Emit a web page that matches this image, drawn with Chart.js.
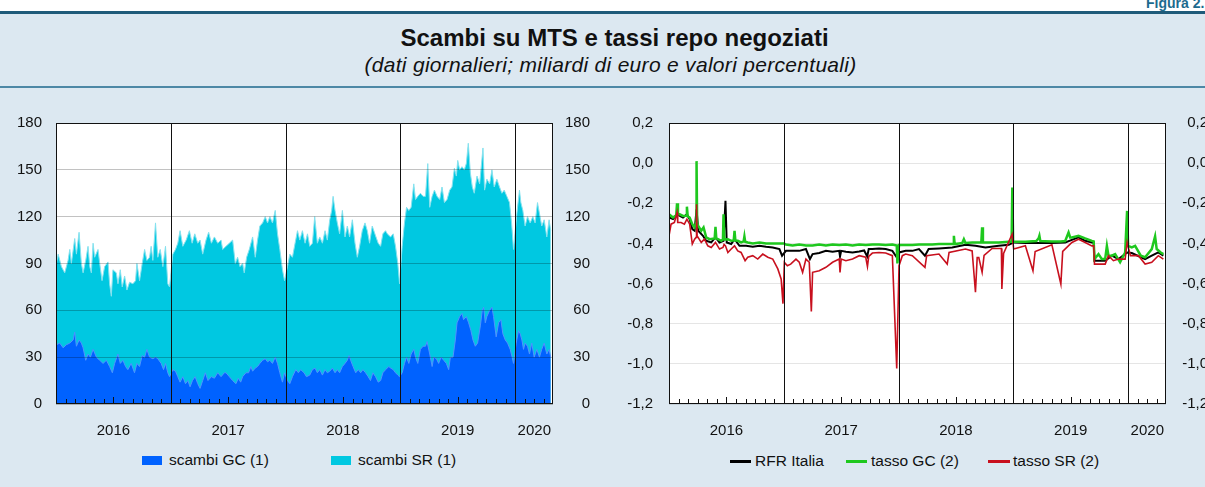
<!DOCTYPE html>
<html><head><meta charset="utf-8">
<script src="https://cdn.jsdelivr.net/npm/chart.js@4.4.1/dist/chart.umd.min.js"></script>
<style>
html,body{margin:0;padding:0;width:1205px;height:487px;overflow:hidden;background:#dce8f1;font-family:"Liberation Sans",Arial,Helvetica,sans-serif;color:#111;position:relative}
#topband{position:absolute;left:0;top:0;width:1205px;height:11px;background:#fff}
#fig{position:absolute;left:1146px;top:-5px;font-weight:bold;font-size:14px;color:#1c6a8e;white-space:nowrap}
#rule1{position:absolute;left:0;top:11px;width:1205px;height:3px;background:#1f5b7a}
#rule2{position:absolute;left:0;top:86px;width:1205px;height:2px;background:#4d88a6}
#title{position:absolute;top:24px;left:24px;width:1181px;text-align:center;font-weight:bold;font-size:24px;color:#111;white-space:nowrap}
#sub{position:absolute;top:53px;left:16px;width:1189px;text-align:center;font-style:italic;font-size:21px;letter-spacing:0.3px;color:#111;white-space:nowrap}
canvas{position:absolute;top:90px}
#c1{left:0}
#c2{left:605px}
.lg{position:absolute;font-size:15.5px;line-height:18px;color:#111;white-space:nowrap}
.box{position:absolute;width:20px;height:9px}
.ln{position:absolute;height:3px}
</style>
</head><body>
<div id="topband"></div>
<div id="fig">Figura 2.</div>
<div id="rule1"></div>
<div id="title">Scambi su MTS e tassi repo negoziati</div>
<div id="sub">(dati giornalieri; miliardi di euro e valori percentuali)</div>
<div id="rule2"></div>
<canvas id="c1" width="590" height="350"></canvas>
<canvas id="c2" width="603" height="350"></canvas>

<div class="box" style="left:142px;top:456px;background:#0062ff"></div>
<div class="lg" style="left:169px;top:451px">scambi GC (1)</div>
<div class="box" style="left:331px;top:456px;background:#00c8e1"></div>
<div class="lg" style="left:358px;top:451px">scambi SR (1)</div>

<div class="ln" style="left:730px;top:460px;width:21px;background:#000"></div>
<div class="lg" style="left:755px;top:452px">RFR Italia</div>
<div class="ln" style="left:846px;top:460px;width:21px;background:#1ec81e"></div>
<div class="lg" style="left:871px;top:452px">tasso GC (2)</div>
<div class="ln" style="left:988px;top:460px;width:22px;background:#c8101e"></div>
<div class="lg" style="left:1013px;top:452px">tasso SR (2)</div>

<script>
// ---------- DATA (x = date as fractional year, y = value) ----------
// Left panel: volumes, billions of euro
const yearLabels = ['2016','2017','2018','2019','2020'];
const yearLabelPos = [2016.5, 2017.5, 2018.5, 2019.5, 2020.167];
const yearBounds = [2017, 2018, 2019, 2020];

// top of the stacked area (GC + SR)
const scambiTotaliGCSR = [
[2016.004,90],[2016.019,96],[2016.047,88],[2016.076,84],[2016.105,92],[2016.120,99],[2016.134,90],[2016.163,106],[2016.178,96],[2016.201,110],
[2016.221,90],[2016.236,84],[2016.259,92],[2016.279,101],[2016.294,88],[2016.308,84],[2016.323,103],[2016.337,94],[2016.366,99],[2016.381,90],
[2016.401,79],[2016.424,88],[2016.453,91],[2016.467,77],[2016.482,69],[2016.496,86],[2016.525,84],[2016.540,77],[2016.560,86],[2016.577,75],
[2016.598,82],[2016.618,73],[2016.641,78],[2016.670,77],[2016.693,79],[2016.705,90],[2016.728,79],[2016.751,90],[2016.772,99],[2016.792,92],
[2016.815,94],[2016.829,101],[2016.844,92],[2016.867,116],[2016.887,94],[2016.908,99],[2016.931,88],[2016.954,101],[2016.974,77],[2016.989,75],
[2017.018,96],[2017.041,99],[2017.061,103],[2017.081,111],[2017.105,101],[2017.134,105],[2017.162,111],[2017.186,103],[2017.209,109],[2017.235,103],
[2017.255,105],[2017.278,96],[2017.307,105],[2017.330,110],[2017.354,103],[2017.380,107],[2017.409,103],[2017.438,105],[2017.452,99],[2017.481,101],
[2017.510,103],[2017.539,105],[2017.562,90],[2017.582,94],[2017.603,88],[2017.626,90],[2017.640,84],[2017.661,94],[2017.684,99],[2017.713,107],
[2017.736,94],[2017.756,105],[2017.776,114],[2017.800,116],[2017.823,120],[2017.843,116],[2017.863,120],[2017.886,116],[2017.910,124],[2017.930,109],
[2017.950,99],[2017.973,86],[2017.991,79],[2018.017,88],[2018.037,96],[2018.060,94],[2018.083,103],[2018.104,111],[2018.124,105],[2018.147,111],
[2018.170,103],[2018.191,109],[2018.211,101],[2018.234,103],[2018.254,120],[2018.277,103],[2018.298,107],[2018.321,103],[2018.344,111],[2018.364,105],
[2018.385,118],[2018.402,124],[2018.414,133],[2018.431,124],[2018.451,116],[2018.471,109],[2018.495,124],[2018.518,107],[2018.538,114],[2018.558,107],
[2018.582,118],[2018.605,103],[2018.625,94],[2018.645,101],[2018.668,111],[2018.692,116],[2018.712,111],[2018.732,103],[2018.755,114],[2018.778,109],
[2018.807,103],[2018.828,101],[2018.848,109],[2018.871,111],[2018.886,109],[2018.915,107],[2018.938,109],[2018.958,101],[2018.978,90],[2018.993,77],
[2019.016,101],[2019.036,116],[2019.054,126],[2019.074,124],[2019.094,126],[2019.117,141],[2019.132,131],[2019.152,133],[2019.175,135],[2019.198,133],
[2019.219,133],[2019.239,154],[2019.256,126],[2019.277,133],[2019.297,137],[2019.320,133],[2019.343,131],[2019.363,139],[2019.384,129],[2019.407,131],
[2019.430,137],[2019.450,139],[2019.471,151],[2019.488,146],[2019.500,156],[2019.517,150],[2019.537,152],[2019.557,150],[2019.575,154],[2019.592,167],
[2019.610,148],[2019.627,139],[2019.644,135],[2019.668,146],[2019.691,141],[2019.720,164],[2019.734,137],[2019.754,144],[2019.778,141],[2019.798,150],
[2019.818,139],[2019.841,144],[2019.864,139],[2019.885,135],[2019.905,137],[2019.928,133],[2019.951,129],[2019.969,116],[2019.986,99],[2020.015,122],
[2020.038,137],[2020.050,129],[2020.067,124],[2020.087,114],[2020.108,120],[2020.131,116],[2020.154,120],[2020.174,116],[2020.195,129],[2020.212,122],
[2020.232,114],[2020.253,118],[2020.276,107],[2020.296,118],[2020.310,111]
];

const scambiGC = [
[2016.004,38],[2016.033,39],[2016.062,36],[2016.091,38],[2016.120,39],[2016.149,41],[2016.163,46],[2016.178,37],[2016.201,41],[2016.221,39],
[2016.236,36],[2016.259,28],[2016.279,32],[2016.300,30],[2016.323,35],[2016.352,30],[2016.381,28],[2016.410,26],[2016.439,28],[2016.467,24],
[2016.491,20],[2016.511,26],[2016.540,32],[2016.560,26],[2016.583,28],[2016.606,24],[2016.626,22],[2016.655,26],[2016.684,20],[2016.705,26],
[2016.728,24],[2016.751,31],[2016.772,30],[2016.792,35],[2016.815,30],[2016.844,29],[2016.867,30],[2016.887,29],[2016.916,26],[2016.937,22],
[2016.954,26],[2016.974,20],[2016.989,17.5],[2017.018,22],[2017.041,21],[2017.061,17.5],[2017.081,14],[2017.105,17.5],[2017.128,13],[2017.149,15],
[2017.168,11],[2017.189,15],[2017.212,17.5],[2017.235,13],[2017.255,10],[2017.278,15],[2017.301,20],[2017.324,15],[2017.354,17.5],[2017.380,16.5],
[2017.409,20],[2017.438,17.5],[2017.467,20],[2017.481,20],[2017.510,17.5],[2017.539,15],[2017.568,13],[2017.588,16.5],[2017.609,14],[2017.626,17.5],
[2017.655,20],[2017.678,20],[2017.698,24],[2017.713,21],[2017.736,23],[2017.756,24],[2017.776,26],[2017.800,28],[2017.823,29],[2017.843,27],
[2017.863,28],[2017.886,26],[2017.910,30],[2017.930,26],[2017.950,20],[2017.973,14],[2017.991,20],[2018.017,15],[2018.037,13],[2018.060,17.5],
[2018.089,22],[2018.112,20],[2018.132,22],[2018.161,20],[2018.182,17.5],[2018.211,18.5],[2018.234,22],[2018.257,23],[2018.277,20],[2018.298,22],
[2018.321,18.5],[2018.344,22],[2018.364,20],[2018.385,21],[2018.408,23],[2018.431,20],[2018.451,22],[2018.471,20],[2018.495,24],[2018.518,26],
[2018.538,28],[2018.553,31],[2018.567,28],[2018.588,24],[2018.611,20],[2018.634,22],[2018.654,20],[2018.674,22],[2018.697,20],[2018.720,17.5],
[2018.740,15],[2018.761,20],[2018.784,17.5],[2018.807,14],[2018.828,15],[2018.848,20],[2018.871,22],[2018.900,24],[2018.915,23],[2018.938,22],
[2018.958,20],[2018.978,18.5],[2018.993,17.5],[2019.016,20],[2019.036,26],[2019.054,30],[2019.074,26],[2019.094,32],[2019.117,35],[2019.132,30],
[2019.152,26],[2019.175,35],[2019.198,37],[2019.219,37],[2019.233,40],[2019.256,32],[2019.277,24],[2019.291,30],[2019.314,29],[2019.334,26],
[2019.355,30],[2019.378,28],[2019.401,26],[2019.421,22],[2019.436,30],[2019.459,30],[2019.479,41],[2019.494,52],[2019.517,56],[2019.537,58],
[2019.551,54],[2019.575,56],[2019.595,52],[2019.615,47],[2019.633,41],[2019.653,37],[2019.673,39],[2019.697,50],[2019.714,60],[2019.726,62],
[2019.740,52],[2019.754,56],[2019.778,60],[2019.798,62],[2019.812,56],[2019.835,43],[2019.856,52],[2019.876,54],[2019.893,45],[2019.914,41],
[2019.934,39],[2019.957,35],[2019.974,30],[2019.986,26],[2020.009,39],[2020.030,47],[2020.044,45],[2020.059,41],[2020.073,35],[2020.087,39],
[2020.108,37],[2020.125,32],[2020.145,39],[2020.166,30],[2020.189,35],[2020.212,30],[2020.232,35],[2020.253,39],[2020.276,32],[2020.296,35],
[2020.310,30]
];

// Right panel: rates, percent
const rfrItalia = [
[2016.000,-0.271],[2016.035,-0.279],[2016.070,-0.255],[2016.122,-0.271],[2016.156,-0.255],[2016.180,-0.279],[2016.203,-0.329],[2016.223,-0.337],
[2016.240,-0.23],[2016.255,-0.337],[2016.296,-0.362],[2016.324,-0.387],[2016.368,-0.395],[2016.405,-0.37],[2016.440,-0.395],[2016.475,-0.387],
[2016.492,-0.188],[2016.503,-0.395],[2016.542,-0.403],[2016.571,-0.379],[2016.614,-0.412],[2016.672,-0.412],[2016.730,-0.417],[2016.788,-0.412],
[2016.846,-0.417],[2016.904,-0.42],[2016.962,-0.428],[2016.985,-0.461],[2017.019,-0.437],[2017.077,-0.437],[2017.135,-0.437],[2017.193,-0.428],
[2017.228,-0.478],[2017.251,-0.453],[2017.309,-0.448],[2017.367,-0.437],[2017.425,-0.441],[2017.483,-0.437],[2017.490,-0.465],[2017.500,-0.437],
[2017.541,-0.441],[2017.599,-0.445],[2017.657,-0.44],[2017.700,-0.435],[2017.727,-0.465],[2017.740,-0.428],[2017.772,-0.428],[2017.830,-0.425],
[2017.888,-0.428],[2017.946,-0.437],[2017.984,-0.469],[2018.004,-0.445],[2018.062,-0.437],[2018.120,-0.437],[2018.178,-0.428],[2018.230,-0.461],
[2018.262,-0.428],[2018.352,-0.425],[2018.467,-0.42],[2018.583,-0.407],[2018.670,-0.412],[2018.757,-0.42],[2018.873,-0.412],[2018.960,-0.407],
[2019.003,-0.395],[2019.105,-0.398],[2019.220,-0.398],[2019.336,-0.398],[2019.452,-0.395],[2019.510,-0.382],[2019.568,-0.37],[2019.626,-0.387],
[2019.684,-0.395],[2019.700,-0.395],[2019.707,-0.486],[2019.800,-0.486],[2019.858,-0.461],[2019.916,-0.478],[2019.991,-0.445],[2020.032,-0.448],
[2020.148,-0.478],[2020.206,-0.461],[2020.263,-0.445],[2020.307,-0.461]
];

const tassoGC = [
[2016.000,-0.255],[2016.035,-0.271],[2016.063,-0.26],[2016.070,-0.20],[2016.078,-0.255],[2016.093,-0.255],[2016.122,-0.263],[2016.150,-0.262],
[2016.156,-0.217],[2016.163,-0.265],[2016.180,-0.271],[2016.203,-0.304],[2016.223,-0.32],[2016.236,-0.30],[2016.240,0.01],[2016.245,-0.30],
[2016.255,-0.312],[2016.281,-0.337],[2016.301,-0.32],[2016.324,-0.37],[2016.353,-0.379],[2016.398,-0.375],[2016.405,-0.317],[2016.412,-0.375],
[2016.426,-0.379],[2016.455,-0.387],[2016.470,-0.38],[2016.475,-0.255],[2016.482,-0.38],[2016.513,-0.379],[2016.542,-0.387],[2016.564,-0.385],
[2016.571,-0.337],[2016.578,-0.385],[2016.599,-0.387],[2016.628,-0.395],[2016.650,-0.39],[2016.657,-0.365],[2016.664,-0.392],[2016.686,-0.395],
[2016.730,-0.40],[2016.788,-0.395],[2016.846,-0.40],[2016.904,-0.40],[2016.999,-0.40],[2017.019,-0.405],[2017.077,-0.41],[2017.135,-0.405],
[2017.193,-0.41],[2017.251,-0.41],[2017.309,-0.405],[2017.367,-0.41],[2017.425,-0.405],[2017.483,-0.408],[2017.541,-0.405],[2017.599,-0.41],
[2017.657,-0.405],[2017.714,-0.408],[2017.772,-0.405],[2017.830,-0.405],[2017.888,-0.408],[2017.946,-0.405],[2017.984,-0.41],[2017.990,-0.50],
[2018.004,-0.408],[2018.062,-0.408],[2018.120,-0.408],[2018.178,-0.405],[2018.236,-0.405],[2018.294,-0.405],[2018.352,-0.403],[2018.410,-0.403],
[2018.475,-0.403],[2018.482,-0.362],[2018.489,-0.403],[2018.526,-0.40],[2018.555,-0.398],[2018.569,-0.379],[2018.583,-0.398],[2018.641,-0.395],
[2018.721,-0.395],[2018.728,-0.32],[2018.735,-0.395],[2018.815,-0.395],[2018.873,-0.395],[2018.960,-0.392],[2018.985,-0.392],[2018.991,-0.122],
[2018.998,-0.392],[2019.047,-0.392],[2019.105,-0.392],[2019.200,-0.388],[2019.220,-0.375],[2019.227,-0.362],[2019.235,-0.388],[2019.278,-0.389],
[2019.336,-0.39],[2019.414,-0.39],[2019.452,-0.388],[2019.481,-0.345],[2019.495,-0.37],[2019.510,-0.37],[2019.568,-0.362],[2019.626,-0.375],
[2019.684,-0.387],[2019.700,-0.39],[2019.707,-0.478],[2019.742,-0.453],[2019.771,-0.478],[2019.800,-0.478],[2019.815,-0.412],[2019.829,-0.461],
[2019.858,-0.461],[2019.887,-0.453],[2019.930,-0.494],[2019.974,-0.445],[2019.991,-0.238],[2020.000,-0.412],[2020.032,-0.42],[2020.061,-0.412],
[2020.110,-0.461],[2020.148,-0.469],[2020.206,-0.428],[2020.235,-0.365],[2020.249,-0.428],[2020.284,-0.445],[2020.307,-0.453]
];

const tassoSR = [
[2016.000,-0.362],[2016.018,-0.304],[2016.047,-0.296],[2016.070,-0.246],[2016.076,-0.296],[2016.105,-0.296],[2016.134,-0.304],[2016.156,-0.279],
[2016.180,-0.304],[2016.203,-0.403],[2016.223,-0.379],[2016.236,-0.37],[2016.240,-0.205],[2016.245,-0.362],[2016.281,-0.395],[2016.309,-0.379],
[2016.338,-0.412],[2016.368,-0.42],[2016.405,-0.395],[2016.440,-0.428],[2016.470,-0.42],[2016.480,-0.405],[2016.492,-0.412],[2016.513,-0.445],
[2016.542,-0.428],[2016.571,-0.412],[2016.599,-0.437],[2016.628,-0.445],[2016.663,-0.486],[2016.686,-0.469],[2016.730,-0.461],[2016.773,-0.478],
[2016.817,-0.453],[2016.861,-0.469],[2016.904,-0.478],[2016.948,-0.527],[2016.977,-0.577],[2016.993,-0.70],[2017.005,-0.494],[2017.031,-0.511],
[2017.060,-0.503],[2017.106,-0.478],[2017.135,-0.494],[2017.164,-0.544],[2017.193,-0.478],[2017.222,-0.494],[2017.240,-0.739],[2017.251,-0.544],
[2017.309,-0.536],[2017.367,-0.519],[2017.425,-0.494],[2017.483,-0.478],[2017.490,-0.544],[2017.500,-0.478],[2017.541,-0.486],[2017.599,-0.478],
[2017.657,-0.461],[2017.714,-0.469],[2017.729,-0.515],[2017.740,-0.465],[2017.772,-0.448],[2017.830,-0.445],[2017.888,-0.448],[2017.946,-0.461],
[2017.984,-1.023],[2018.004,-0.511],[2018.033,-0.461],[2018.062,-0.453],[2018.120,-0.461],[2018.230,-0.519],[2018.245,-0.461],[2018.352,-0.453],
[2018.424,-0.503],[2018.440,-0.445],[2018.583,-0.428],[2018.641,-0.437],[2018.670,-0.643],[2018.685,-0.47],[2018.699,-0.47],[2018.728,-0.544],
[2018.745,-0.46],[2018.815,-0.425],[2018.896,-0.425],[2018.900,-0.627],[2018.915,-0.45],[2018.989,-0.354],[2019.003,-0.428],[2019.105,-0.412],
[2019.171,-0.536],[2019.190,-0.44],[2019.336,-0.407],[2019.414,-0.602],[2019.430,-0.44],[2019.510,-0.395],[2019.568,-0.379],[2019.626,-0.395],
[2019.684,-0.412],[2019.700,-0.412],[2019.707,-0.503],[2019.800,-0.503],[2019.829,-0.461],[2019.872,-0.486],[2019.916,-0.478],[2019.974,-0.478],
[2019.991,-0.395],[2020.020,-0.461],[2020.090,-0.461],[2020.148,-0.503],[2020.206,-0.494],[2020.263,-0.461],[2020.307,-0.478]
];

// ---------- CHARTS ----------
Chart.defaults.font.family = '"Liberation Sans", Arial, Helvetica, sans-serif';
Chart.defaults.color = '#111';
const X_MIN = 2016, X_MAX = 2020.33;
const toXY = arr => arr.map(p => ({x: p[0], y: p[1]}));

const panelDeco = {
  id: 'panelDeco',
  beforeDraw(chart) {
    const {ctx, chartArea: a} = chart;
    ctx.save();
    ctx.fillStyle = '#ffffff';
    ctx.fillRect(a.left, a.top, a.right - a.left, a.bottom - a.top);
    ctx.restore();
  },
  afterDraw(chart) {
    const {ctx, chartArea: a} = chart;
    const x = chart.scales.x;
    ctx.save();
    ctx.strokeStyle = '#111';
    ctx.lineWidth = 1;
    yearBounds.forEach(v => {
      const px = Math.round(x.getPixelForValue(v)) + 0.5;
      ctx.beginPath(); ctx.moveTo(px, a.top); ctx.lineTo(px, a.bottom); ctx.stroke();
    });
    for (let m = 1; 2016 + m / 12 < X_MAX; m++) {
      if (m % 12 === 0) continue;
      const px = Math.round(x.getPixelForValue(2016 + m / 12)) + 0.5;
      const len = (m % 12 === 6) ? 7 : 5;
      ctx.beginPath(); ctx.moveTo(px, a.bottom); ctx.lineTo(px, a.bottom - len); ctx.stroke();
    }
    ctx.strokeRect(Math.round(a.left) + 0.5, Math.round(a.top) + 0.5,
                   Math.round(a.right - a.left) - 1, Math.round(a.bottom - a.top) - 1);
    ctx.restore();
  }
};

function xAxis(height) {
  return {
    type: 'linear', min: X_MIN, max: X_MAX, position: 'bottom',
    afterBuildTicks: ax => { ax.ticks = yearLabelPos.map(v => ({value: v})); },
    afterFit: ax => { ax.height = height; },
    grid: {display: false}, border: {display: false},
    ticks: {font: {size: 15}, color: '#111', padding: 10, maxRotation: 0, autoSkip: false,
            callback: (v, i) => yearLabels[i]}
  };
}

new Chart(document.getElementById('c1'), {
  type: 'line',
  data: {
    datasets: [
      {label: 'scambi GC (1)', data: toXY(scambiGC), backgroundColor: '#0062ff',
       borderColor: '#4f93ff', borderWidth: 1, fill: 'origin', pointRadius: 0, tension: 0, order: 0},
      {label: 'scambi SR (1)', data: toXY(scambiTotaliGCSR), backgroundColor: '#00c8e1',
       borderColor: '#86e2ef', borderWidth: 1, fill: 'origin', pointRadius: 0, tension: 0, order: 1}
    ]
  },
  options: {
    responsive: false, animation: false, devicePixelRatio: 1,
    layout: {padding: {top: 33, left: 0, right: 0, bottom: 0}},
    plugins: {legend: {display: false}, tooltip: {enabled: false}},
    scales: {
      x: xAxis(36),
      y: {min: 0, max: 180, position: 'left', afterFit: ax => { ax.width = 56; },
          ticks: {stepSize: 30, font: {size: 15}, color: '#111', padding: 14},
          grid: {color: 'rgba(0,0,0,0.24)', drawTicks: false, z: 1}, border: {display: false}},
      y2: {min: 0, max: 180, position: 'right', afterFit: ax => { ax.width = 37; },
          ticks: {stepSize: 30, font: {size: 15}, color: '#111', padding: 12, crossAlign: 'far'},
          grid: {display: false, drawTicks: false}, border: {display: false}}
    }
  },
  plugins: [panelDeco]
});

const fmtRate = v => (Math.abs(v) < 1e-9 ? 0 : v).toFixed(1).replace('.', ',');

new Chart(document.getElementById('c2'), {
  type: 'line',
  data: {
    datasets: [
      {label: 'RFR Italia', data: toXY(rfrItalia), borderColor: '#000000', borderWidth: 2,
       pointRadius: 0, tension: 0, fill: false, order: 2},
      {label: 'tasso GC (2)', data: toXY(tassoGC), borderColor: '#1ec81e', borderWidth: 2.5,
       pointRadius: 0, tension: 0, fill: false, order: 1},
      {label: 'tasso SR (2)', data: toXY(tassoSR), borderColor: '#c8101e', borderWidth: 1.6,
       pointRadius: 0, tension: 0, fill: false, order: 0}
    ]
  },
  options: {
    responsive: false, animation: false, devicePixelRatio: 1,
    layout: {padding: {top: 33, left: 0, right: 0, bottom: 0}},
    plugins: {legend: {display: false}, tooltip: {enabled: false}},
    scales: {
      x: xAxis(36),
      y: {min: -1.2, max: 0.2, position: 'left', afterFit: ax => { ax.width = 64; },
          ticks: {stepSize: 0.2, font: {size: 15}, color: '#111', padding: 16, callback: fmtRate},
          grid: {color: 'rgba(0,0,0,0.10)', drawTicks: false}, border: {display: false}},
      y2: {min: -1.2, max: 0.2, position: 'right', afterFit: ax => { ax.width = 42; },
          ticks: {stepSize: 0.2, font: {size: 15}, color: '#111', padding: 15, crossAlign: 'far', callback: fmtRate},
          grid: {display: false, drawTicks: false}, border: {display: false}}
    }
  },
  plugins: [panelDeco]
});
</script>
</body></html>
